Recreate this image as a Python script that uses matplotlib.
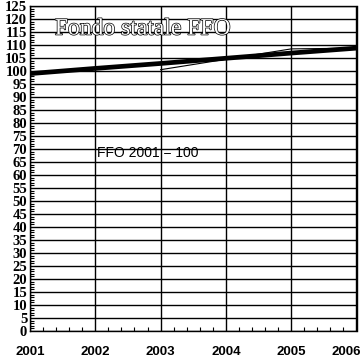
import matplotlib
matplotlib.use("Agg")
import matplotlib.pyplot as plt
import matplotlib.patheffects as pe
from matplotlib.ticker import MultipleLocator
import matplotlib.transforms as mtransforms

# data
years = [2001, 2002, 2003, 2004, 2005, 2006]
ffo_index = [99, 101, 102.9, 104.9, 106.9, 108.8]
years_b = [2003, 2004, 2005, 2006]
ffo_b = [100.5, 104.5, 108.5, 108.8]
y_ticks = list(range(0, 126, 5))
x_labels = ["2001", "2002", "2003", "2004", "2005", "2006"]

fig = plt.figure(figsize=(3.63, 3.61), dpi=100)
ax = fig.add_axes([30 / 363, 30 / 361, 326.5 / 363, 325 / 361])

# grid
for y in y_ticks:
    ax.axhline(y, color="black", linewidth=1.0, zorder=1)
for x in years:
    ax.axvline(x, color="black", linewidth=1.0, zorder=1)

ax.plot(years, ffo_index, color="black", linewidth=3.4, solid_capstyle="butt", zorder=3)
ax.plot(years_b, ffo_b, color="black", linewidth=0.8, zorder=3)

ax.set_xlim(2001, 2006)
ax.set_ylim(0, 125)

ax.set_yticks(y_ticks)
ax.set_yticklabels([str(v) for v in y_ticks], fontfamily="Liberation Serif",
                   fontweight="bold", fontsize=10.5)
ax.yaxis.set_minor_locator(MultipleLocator(1))
ax.tick_params(axis="y", which="major", length=0, pad=2)
ax.tick_params(axis="y", which="minor", direction="in", length=3, width=0.8)

ax.set_xticks(years)
ax.set_xticklabels(x_labels, fontfamily="Liberation Sans", fontweight="bold", fontsize=9.5)
ax.xaxis.set_minor_locator(MultipleLocator(0.2))
ax.tick_params(axis="x", which="major", length=0, pad=11)
ax.tick_params(axis="x", which="minor", direction="in", length=3, width=0.8)

# last year label is pulled left so it fits in the picture
last = ax.get_xticklabels()[-1]
last.set_transform(last.get_transform() + mtransforms.ScaledTranslation(-10 / 100, 0, fig.dpi_scale_trans))

for s in ax.spines.values():
    s.set_linewidth(1.0)

ax.text(2001.38, 114, "Fondo statale FFO", fontfamily="Liberation Serif", fontsize=17,
        color="white", va="baseline", ha="left", zorder=4,
        path_effects=[pe.Stroke(linewidth=1.0, foreground="black"), pe.Normal()])
ax.text(2002.03, 68.5, "FFO 2001 = 100", fontfamily="Liberation Sans", fontsize=10,
        va="center", ha="left", zorder=4)

fig.savefig("out.png", dpi=100)
